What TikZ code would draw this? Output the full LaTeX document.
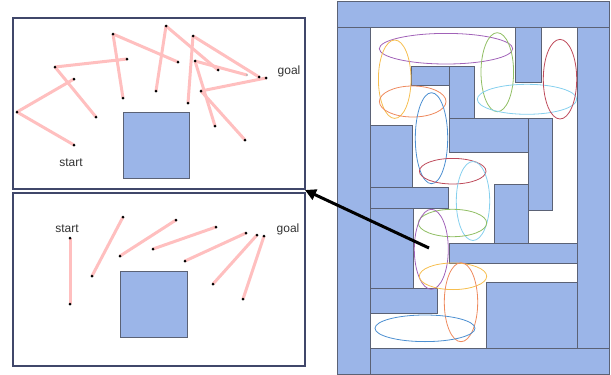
\documentclass[tikz,border=0pt]{standalone}
\usepackage{fontspec}
\setmainfont{Liberation Sans}
\usetikzlibrary{arrows.meta}
\definecolor{blockblue}{HTML}{9BB5E8}
\definecolor{blockline}{HTML}{5B6275}
\definecolor{pathpink}{HTML}{FFBFBF}
\definecolor{panelline}{HTML}{40476A}
\definecolor{cpurple}{HTML}{A162B8}
\definecolor{cyellow}{HTML}{F6BE4F}
\definecolor{ccoral}{HTML}{EE8A5E}
\definecolor{cgreen}{HTML}{90BE63}
\definecolor{csky}{HTML}{86D0EE}
\definecolor{ccrimson}{HTML}{BE4B5B}
\definecolor{cblue}{HTML}{4C8FD1}
\begin{document}
\begin{tikzpicture}[x=1pt, y=-1pt,
	edge/.style={pathpink, line width=3pt},
	block/.style={fill=blockblue, draw=blockline, line width=0.7pt},
	panel/.style={draw=panelline, line width=1.2pt},
	label/.style={text=black!80, font=\fontsize{12}{14}\selectfont}]
	\useasboundingbox (0,0) rectangle (611,375);
	% panels
	\draw [panel] (13,18) rectangle (305,189);
	\draw [panel] (13,193) rectangle (305,366);
	\fill [block] (123,112) rectangle (189,178);
	\fill [block] (120,271) rectangle (187,337);
	% upper panel: tree
	\foreach \n/\x/\y in {ts/74/145, ta/17/112, tb/74/79, tc/55/67, td/96/117,
		te/127/59, tf/113/34, tg/123/98, th/178/62, ti/166/26, tj/156/91,
		tk/247/75, tl/193/36, tm/188/103, tn/259/77, to/195/61, tp/218/70,
		tq/215/126, tr/201/91, tgoal/266/78, tt/245/140}{
		\coordinate (\n) at (\x,\y);
	}
	\foreach \a/\b in {ts/ta, ta/tb, tc/td, tc/te, tf/tg, tf/th, ti/tj, ti/tp,
		tl/tm, tl/tn, to/tk, to/tq, tr/tgoal, tr/tt}{
		\draw [edge] (\a) -- (\b);
	}
	\foreach \n in {ts, ta, tb, tc, td, te, tf, tg, th, ti, tj, tl, tm, tn, to,
		tp, tq, tr, tgoal, tt}{
		\fill (\n) circle (1.5pt);
	}
	\fill [gray!60] (tk) circle (1.2pt);
	\node [label] (tstart) at (71,163) {start};
	\node [label] (tgoaltext) at (289,71) {goal};
	% lower panel: segments
	\foreach \n/\x/\y/\m/\u/\v in {b1/70/238/c1/70/304, b2/123/217/c2/92/276,
		b3/176/220/c3/120/256, b4/216/227/c4/153/249, b5/246/233/c5/185/261,
		b6/257/235/c6/213/284, b7/264/236/c7/243/299}{
		\coordinate (\n) at (\x,\y);
		\coordinate (\m) at (\u,\v);
		\draw [edge] (\n) -- (\m);
		\fill (\n) circle (1.5pt);
		\fill (\m) circle (1.5pt);
	}
	\node [label] (bstart) at (67,229) {start};
	\node [label] (bgoaltext) at (288,229) {goal};
	% maze
	\foreach \xa/\ya/\xb/\yb in {337/1/609/27, 337/27/370/374, 577/27/609/348,
		370/348/609/374, 515/27/541/82, 411/66/449/85, 449/66/474/118,
		449/118/528/152, 528/118/552/210, 370/125/412/187, 370/187/448/208,
		370/208/413/288, 370/288/437/313, 494/184/528/243, 449/243/577/263,
		486/282/577/348}{
		\fill [block] (\xa,\ya) rectangle (\xb,\yb);
	}
	\foreach \x/\y/\rx/\ry/\c in {446/48.7/66.7/15.3/cpurple,
		394.7/79.2/16.3/39.2/cyellow, 412.7/101.5/33.3/15.5/ccoral,
		497.3/72.2/16.3/39.5/cgreen, 527/99.3/49.7/15/csky,
		560/79.2/16.7/39.8/ccrimson, 431.5/138.2/16.2/45.5/cblue,
		452.7/171.2/33.3/12.8/ccrimson, 473/201/16.7/39.5/csky,
		452.5/223/34.2/13.7/cgreen, 431.3/249.3/17/40/cpurple,
		453/276.3/33.7/13.3/cyellow, 461/302.2/16.7/39.5/ccoral,
		425/328.3/50/13.3/cblue}{
		\draw [\c, line width=0.8pt] (\x,\y) ellipse [x radius=\rx pt, y radius=\ry pt];
	}
	% arrow
	\coordinate (arrs) at (429,248);
	\coordinate (arre) at (305,190);
	\draw [line width=3pt, -{Triangle[length=11pt, width=11pt]}] (arrs) -- (arre);
\end{tikzpicture}
\end{document}
